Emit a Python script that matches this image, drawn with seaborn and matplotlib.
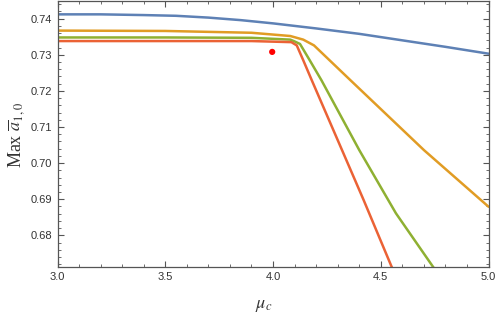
"""
Max a_{1,0} vs mu_c  — Mathematica-style frame plot recreated with seaborn
"""

import numpy as np
import pandas as pd
import matplotlib
matplotlib.use("Agg")
import matplotlib.pyplot as plt
import seaborn as sns
from matplotlib.ticker import MultipleLocator, FormatStrFormatter

# ── Data ────────────────────────────────────────────────────────────────────
blue_x = [3.0, 3.2, 3.4, 3.55, 3.7, 3.85, 4.0, 4.2, 4.4, 4.6, 4.8, 5.0]
blue_y = [0.7412, 0.7412, 0.7410, 0.7408, 0.7403, 0.7396, 0.7387, 0.7373,
          0.7358, 0.7340, 0.7322, 0.7303]

orange_x = [3.0, 3.5, 3.9, 4.08, 4.14, 4.19, 4.36, 4.70, 5.0]
orange_y = [0.7367, 0.7366, 0.7361, 0.7352, 0.7342, 0.7326, 0.7229, 0.7036, 0.6879]

green_x = [3.0, 3.5, 3.9, 4.08, 4.10, 4.125, 4.17, 4.225, 4.40, 4.57, 4.75]
green_y = [0.7348, 0.7348, 0.7347, 0.7342, 0.7337, 0.7330, 0.7285, 0.7229,
           0.7036, 0.6861, 0.6706]

red_x = [3.0, 3.5, 3.9, 4.085, 4.11, 4.14, 4.18, 4.32, 4.42, 4.55, 4.58]
red_y = [0.7338, 0.7338, 0.7338, 0.7335, 0.7326, 0.7285, 0.7229, 0.7036,
         0.6898, 0.6713, 0.6671]

dot_x = [3.996]
dot_y = [0.7308]

series = [
    ("blue", blue_x, blue_y, "#5E81B5"),
    ("orange", orange_x, orange_y, "#E19C24"),
    ("green", green_x, green_y, "#8FB032"),
    ("red", red_x, red_y, "#EB6235"),
]

# ── Figure ──────────────────────────────────────────────────────────────────
sns.set_style("ticks")
plt.rcParams["font.family"] = ["Liberation Sans", "DejaVu Sans"]
plt.rcParams["mathtext.fontset"] = "stix"

fig = plt.figure(figsize=(4.98, 3.17), dpi=100)
ax = fig.add_axes([0.1155, 0.1587, 0.8656, 0.8393])

for name, xs, ys, col in series:
    df = pd.DataFrame({"mu": xs, "val": ys})
    sns.lineplot(data=df, x="mu", y="val", ax=ax, color=col, linewidth=1.8,
                 sort=False, estimator=None)

sns.scatterplot(x=dot_x, y=dot_y, ax=ax, color="#FF0000", s=20,
                edgecolor="none", zorder=5)

ax.set_xlim(3.0, 5.0)
ax.set_ylim(0.6713, 0.7450)

ax.xaxis.set_major_locator(MultipleLocator(0.5))
ax.xaxis.set_minor_locator(MultipleLocator(0.1))
ax.yaxis.set_major_locator(MultipleLocator(0.01))
ax.yaxis.set_minor_locator(MultipleLocator(0.002))
ax.xaxis.set_major_formatter(FormatStrFormatter("%.1f"))
ax.yaxis.set_major_formatter(FormatStrFormatter("%.2f"))

frame_col = "#555555"
for sp in ax.spines.values():
    sp.set_visible(True)
    sp.set_color(frame_col)
    sp.set_linewidth(0.9)

ax.tick_params(which="both", direction="in", top=True, right=True,
               color=frame_col, labelcolor="#333333", labelsize=8)
ax.tick_params(which="major", length=4.5, width=0.8, pad=4)
ax.tick_params(which="minor", length=2.5, width=0.6)

ax.set_xlabel(r"$\mu_c$", fontsize=13, color="#333333", va="center")
ax.set_ylabel(r"Max $\overline{a}_{1,0}$", fontsize=13, color="#333333",
              family=["Liberation Serif", "DejaVu Serif"],
              va="center", ha="center")
ax.xaxis.set_label_coords(0.478, -0.144)
ax.yaxis.set_label_coords(-0.096, 0.494)

fig.savefig("out.png", dpi=100)
plt.close(fig)
